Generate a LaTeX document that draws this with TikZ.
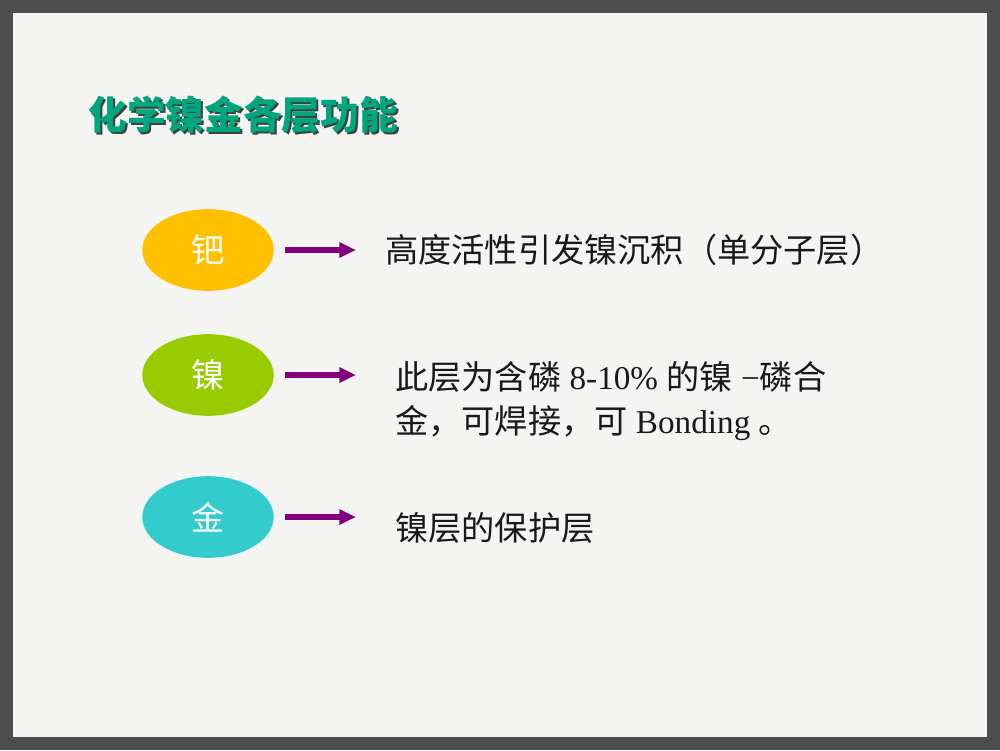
\documentclass[tikz,border=0pt]{standalone}
\usepackage{fontspec}
\setmainfont{Liberation Serif}
\newfontfamily\cjk{Noto Sans CJK SC}
\usetikzlibrary{arrows.meta,shapes.geometric}
\definecolor{frame}{HTML}{4D4D4D}
\definecolor{paper}{HTML}{F4F4F3}
\definecolor{titlegreen}{HTML}{00A67E}
\definecolor{pdyellow}{HTML}{FFC000}
\definecolor{nigreen}{HTML}{99CC00}
\definecolor{aucyan}{HTML}{33CCCC}
\definecolor{arrowpurple}{HTML}{800080}
\tikzset{
  layer/.style={ellipse,minimum width=95pt,minimum height=59pt,
    inner sep=0pt,text=white,font=\cjk\fontsize{24}{28}\selectfont},
  note/.style={anchor=west,inner sep=0pt,align=left,text=black!90,
    font=\fontsize{24}{31.7}\selectfont},
  arr/.style={arrowpurple,line width=4pt,shorten <=8pt,
    -{Triangle[length=12pt,width=10.5pt]}}
}
\begin{document}
\begin{tikzpicture}[x=0.0254cm,y=-0.0254cm]
\useasboundingbox (0,0) rectangle (1000,750);
\fill[frame] (0,0) rectangle (1000,750);
\fill[paper] (13,13) rectangle (987,737);

% title with its shadow
\node[anchor=west,inner sep=0pt,text=black!75,font=\cjk\bfseries\fontsize{28}{32}\selectfont]
 (titleshadow) at (90,117) {化学镍金各层功能};
\node[anchor=west,inner sep=0pt,text=titlegreen,font=\cjk\bfseries\fontsize{28}{32}\selectfont]
 (title) at (88,115) {化学镍金各层功能};

% the three layers
\node[layer,fill=pdyellow] (pd) at (208,250) {钯};
\node[layer,fill=nigreen] (ni) at (208,375) {镍};
\node[layer,fill=aucyan] (au) at (208,517) {金};

\coordinate (pdend) at (356,250);
\coordinate (niend) at (356,375);
\coordinate (auend) at (356,517);
\draw[arr] (pd.east) -- (pdend);
\draw[arr] (ni.east) -- (niend);
\draw[arr] (au.east) -- (auend);

\node[note] (pdtxt) at (385,250) {\cjk 高度活性引发镍沉积（单分子层）};
\node[note] (nitxt) at (395,401)
 {{\cjk 此层为含磷} 8-10\% {\cjk 的镍} −{\cjk 磷合}\\
  {\cjk 金，可焊接，可} Bonding {\cjk 。}};
\node[note] (autxt) at (395,528) {\cjk 镍层的保护层};
\end{tikzpicture}
\end{document}
